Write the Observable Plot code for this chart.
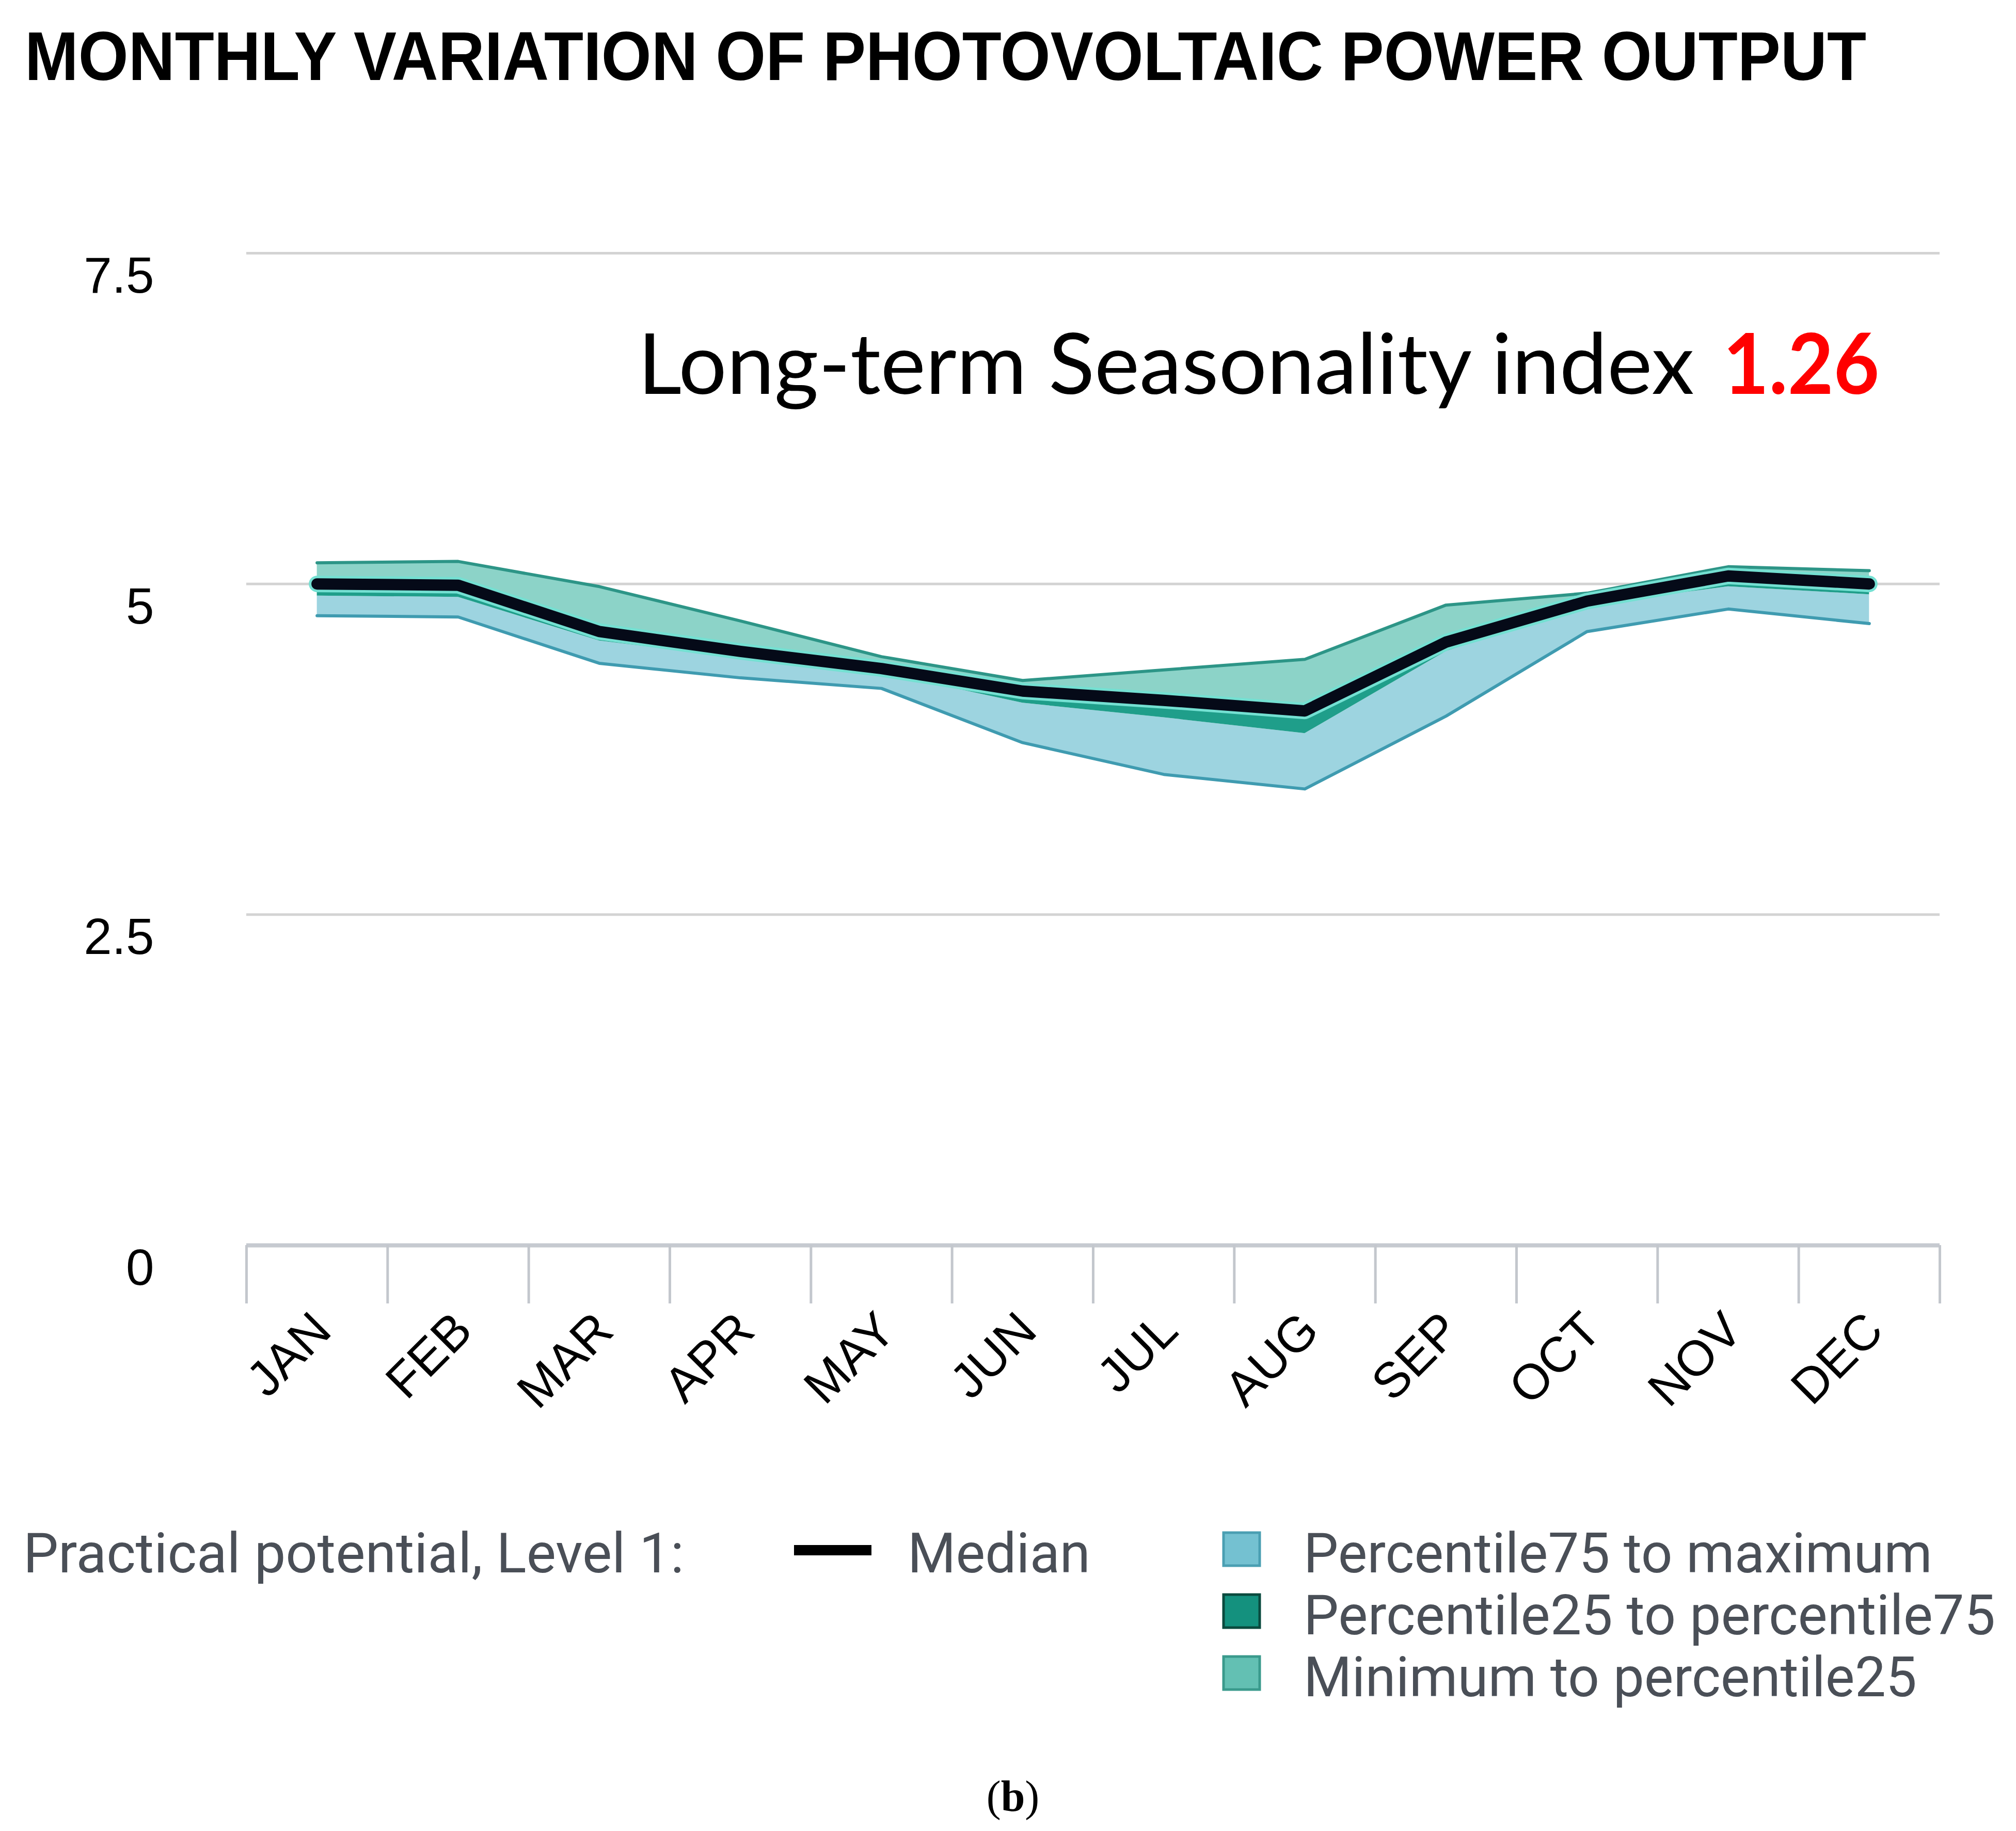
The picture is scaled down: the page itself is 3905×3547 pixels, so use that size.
<!DOCTYPE html>
<html>
<head>
<meta charset="utf-8">
<script src="https://cdn.jsdelivr.net/npm/d3@7"></script>
<script src="https://cdn.jsdelivr.net/npm/@observablehq/plot@0.6"></script>
<style>
html, body { margin: 0; padding: 0; background: #fff; }
#wrap { position: relative; width: 3905px; height: 3547px; overflow: hidden; background: #fff; }
#chart { position: absolute; left: 0; top: 0; }
#overlay { position: absolute; left: 0; top: 0; }
</style>
</head>
<body>
<div id="wrap"><div id="chart"></div><svg id="overlay" width="3905" height="3547"></svg></div>
<script>
// ---- data ----
const months = ["JAN","FEB","MAR","APR","MAY","JUN","JUL","AUG","SEP","OCT","NOV","DEC"];
const upperEdge = [5.16, 5.17, 4.98, 4.72, 4.45, 4.27, 4.35, 4.43, 4.84, 4.93, 5.13, 5.10];
const median    = [5.00, 4.99, 4.64, 4.49, 4.36, 4.19, 4.12, 4.04, 4.56, 4.87, 5.06, 5.00];
const innerLow  = [4.91, 4.90, 4.57, 4.44, 4.33, 4.10, 3.99, 3.87, 4.49, 4.84, 4.98, 4.92];
const lowerEdge = [4.76, 4.75, 4.40, 4.29, 4.21, 3.80, 3.56, 3.45, 4.00, 4.64, 4.81, 4.70];
const yTicks = [0, 2.5, 5, 7.5];
const yTickLabels = ["0", "2.5", "5", "7.5"];
const titleText = "MONTHLY VARIATION OF PHOTOVOLTAIC POWER OUTPUT";
const annotationText = "Long-term Seasonality index";
const indexValue = "1.26";
const legendHeading = "Practical potential, Level 1:";
const medianLabel = "Median";
const legendLabels = ["Percentile75 to maximum", "Percentile25 to percentile75", "Minimum to percentile25"];
const legendFills = ["#74c1d1", "#14917e", "#63c0b3"];
const legendStrokes = ["#4a9fb2", "#0a4a3e", "#3a9a8c"];
const captionLetter = "b";

const rows = months.map((m, i) => ({i, m, top: upperEdge[i], median: median[i], low: innerLow[i], bottom: lowerEdge[i]}));
const boundaries = d3.range(months.length + 1).map(k => k - 0.5);

const plot = Plot.plot({
  width: 3905,
  height: 2800,
  marginTop: 490,
  marginBottom: 388,
  marginLeft: 477,
  marginRight: 148,
  style: {background: "transparent", overflow: "visible", fontFamily: "Liberation Sans"},
  x: {type: "linear", domain: [-0.5, 11.5]},
  y: {domain: [0, 7.5]},
  marks: [
    Plot.ruleY(yTicks.filter(d => d > 0), {stroke: "#d3d3d3", strokeWidth: 5}),
    Plot.areaY(rows, {x: "i", y1: "low", y2: "bottom", fill: "#9dd4e0"}),
    Plot.lineY(rows, {x: "i", y: "bottom", stroke: "#3f9bb0", strokeWidth: 6}),
    Plot.areaY(rows, {x: "i", y1: "median", y2: "low", fill: "#1f9e8a"}),
    Plot.areaY(rows, {x: "i", y1: "top", y2: "median", fill: "#8cd3c8"}),
    Plot.lineY(rows, {x: "i", y: "top", stroke: "#2d9587", strokeWidth: 6}),
    Plot.lineY(rows, {x: "i", y: "median", stroke: "#74e0d2", strokeWidth: 32}),
    Plot.lineY(rows, {x: "i", y: "median", stroke: "#050a18", strokeWidth: 22, strokeLinecap: "round", strokeLinejoin: "round"}),
    Plot.ruleY([0], {stroke: "#c6cad0", strokeWidth: 8}),
    Plot.axisX(boundaries, {tickSize: 113, stroke: "#c3c7cd", strokeWidth: 5, tickFormat: () => "", label: null}),
    Plot.text(months, {x: (d, i) => i, text: d => d, frameAnchor: "bottom", rotate: -45, textAnchor: "end", dx: 32, dy: 170, fontSize: 96, fill: "#000", fontFamily: "Liberation Sans"}),
    Plot.axisY(yTicks, {tickSize: 0, tickPadding: 179, dy: 45, fontSize: 98, fill: "#000", label: null, fontFamily: "Liberation Sans",
      tickFormat: d => yTickLabels[yTicks.indexOf(d)]}),
    Plot.text([annotationText], {text: d => d, frameAnchor: "top-left", dx: 758, dy: 272, lineAnchor: "bottom", textAnchor: "start", fontSize: 163, fontFamily: "Lato", fill: "#000"}),
    Plot.text([indexValue], {text: d => d, frameAnchor: "top-left", dx: 2860, dy: 272, lineAnchor: "bottom", textAnchor: "start", fontSize: 163, fontFamily: "Lato", fontWeight: "bold", fill: "#ff0000"})
  ]
});
document.getElementById("chart").appendChild(plot);

// fit annotation widths
plot.querySelectorAll("text").forEach(t => {
  if (t.textContent === annotationText) { t.setAttribute("textLength", 2046); t.setAttribute("lengthAdjust", "spacingAndGlyphs"); }
  if (t.textContent === indexValue) { t.setAttribute("textLength", 303); t.setAttribute("lengthAdjust", "spacingAndGlyphs"); }
});

// ---- title, legend, caption ----
const ov = d3.select("#overlay");
ov.append("text").attr("x", 48).attr("y", 155)
  .attr("font-family", "Liberation Sans").attr("font-weight", "bold").attr("font-size", 134)
  .attr("fill", "#000").attr("textLength", 3567).attr("lengthAdjust", "spacingAndGlyphs")
  .text(titleText);

const legendColor = "#4a4f57";
const lg = ov.append("g").attr("font-family", "Roboto").attr("font-size", 108).attr("fill", legendColor);
lg.append("text").attr("x", 45).attr("y", 3046).attr("textLength", 1280).attr("lengthAdjust", "spacingAndGlyphs").text(legendHeading);
lg.append("line").attr("x1", 1538).attr("x2", 1688).attr("y1", 3003).attr("y2", 3003).attr("stroke", "#000").attr("stroke-width", 20);
lg.append("text").attr("x", 1758).attr("y", 3046).attr("textLength", 354).attr("lengthAdjust", "spacingAndGlyphs").text(medianLabel);
const legendWidths = [1218, 1340, 1188];
legendLabels.forEach((lab, k) => {
  lg.append("rect").attr("x", 2370).attr("y", 2969 + k * 120).attr("width", 70).attr("height", 64)
    .attr("fill", legendFills[k]).attr("stroke", legendStrokes[k]).attr("stroke-width", 5);
  lg.append("text").attr("x", 2525).attr("y", 3046 + k * 120)
    .attr("textLength", legendWidths[k]).attr("lengthAdjust", "spacingAndGlyphs").text(lab);
});

const cap = ov.append("text").attr("x", 1962).attr("y", 3508).attr("text-anchor", "middle")
  .attr("font-family", "Liberation Serif").attr("font-size", 84).attr("fill", "#000");
cap.append("tspan").text("(");
cap.append("tspan").attr("font-weight", "bold").text(captionLetter);
cap.append("tspan").text(")");
</script>
</body>
</html>
